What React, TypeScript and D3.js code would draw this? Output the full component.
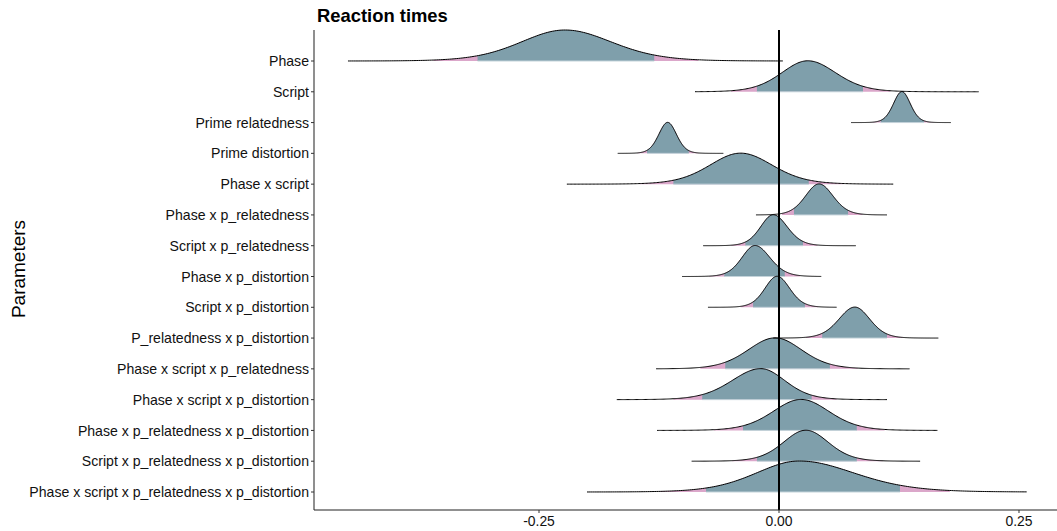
import React from "react";
import * as d3 from "d3";

const params = [
  "Phase",
  "Script",
  "Prime relatedness",
  "Prime distortion",
  "Phase x script",
  "Phase x p_relatedness",
  "Script x p_relatedness",
  "Phase x p_distortion",
  "Script x p_distortion",
  "P_relatedness x p_distortion",
  "Phase x script x p_relatedness",
  "Phase x script x p_distortion",
  "Phase x p_relatedness x p_distortion",
  "Script x p_relatedness x p_distortion",
  "Phase x script x p_relatedness x p_distortion",
];

// posterior mode of each parameter
const modes = [-0.223, 0.03, 0.128, -0.116, -0.04, 0.0417, -0.006, -0.025, -0.002, 0.079, -0.004, -0.019, 0.023, 0.028, 0.021];
// spread left / right of the mode
const sdLeft = [0.047, 0.028, 0.009, 0.0095, 0.033, 0.0145, 0.0135, 0.014, 0.013, 0.017, 0.029, 0.031, 0.03, 0.024, 0.046];
const sdRight = [0.05, 0.03, 0.009, 0.0095, 0.034, 0.015, 0.015, 0.016, 0.0135, 0.016, 0.0285, 0.026, 0.03, 0.024, 0.059];
// inner credible interval (blue)
const innerLo = [-0.314, -0.023, 0.106, -0.1375, -0.11, 0.0156, -0.035, -0.057, -0.027, 0.045, -0.056, -0.08, -0.0375, -0.023, -0.076];
const innerHi = [-0.13, 0.0875, 0.151, -0.094, 0.031, 0.072, 0.025, 0.006, 0.027, 0.1125, 0.053, 0.034, 0.081, 0.081, 0.126];
// outer credible interval (pink)
const outerLo = [-0.36, -0.05, 0.095, -0.148, -0.145, 0.003, -0.05, -0.073, -0.04, 0.028, -0.082, -0.11, -0.068, -0.049, -0.124];
const outerHi = [-0.084, 0.116, 0.163, -0.083, 0.067, 0.087, 0.04, 0.022, 0.041, 0.129, 0.082, 0.06, 0.11, 0.108, 0.178];
// full range of draws
const extentLo = [-0.449, -0.0875, 0.075, -0.168, -0.221, -0.024, -0.079, -0.101, -0.074, -0.006, -0.128, -0.169, -0.127, -0.091, -0.2];
const extentHi = [0.004, 0.208, 0.179, -0.058, 0.119, 0.1125, 0.08, 0.044, 0.06, 0.166, 0.136, 0.1125, 0.165, 0.147, 0.258];

const xTicks = [-0.25, 0, 0.25];
const xTickLabels = ["-0.25", "0.00", "0.25"];

const W = 1057;
const H = 531;
const FONT = "'Liberation Sans', Arial, Helvetica, sans-serif";
const BLUE = "#7f9fab";
const PINK = "#dba7ca";
const DF = 12; // tail heaviness of the density shape

export default function App() {
  const x = d3.scaleLinear().domain([-0.4844, 0.2823]).range([314, 1050]);
  const y = d3.scalePoint<string>().domain(params).range([61, 492]);
  const h = d3.scaleLinear().domain([0, 1]).range([0, 31]);

  const dens = (i: number, v: number) => {
    const m = modes[i];
    const s = v < m ? sdLeft[i] : sdRight[i];
    const z = (v - m) / s;
    return Math.pow(1 + (z * z) / DF, -(DF + 1) / 2);
  };

  const sample = (lo: number, hi: number) => {
    const n = 240;
    return d3.range(n + 1).map((k) => lo + ((hi - lo) * k) / n);
  };

  const rows = params.map((p, i) => {
    const base = y(p) as number;
    const area = d3
      .area<number>()
      .x((v) => x(v))
      .y0(base)
      .y1((v) => base - h(dens(i, v)));
    const line = d3
      .line<number>()
      .x((v) => x(v))
      .y((v) => Math.min(base, base - h(dens(i, v)) + 0));
    return {
      p,
      base,
      outer: area(sample(outerLo[i], outerHi[i])) as string,
      inner: area(sample(innerLo[i], innerHi[i])) as string,
      outline: line(sample(extentLo[i], extentHi[i])) as string,
      i,
    };
  });

  return (
    <svg
      width={W}
      height={H}
      style={{ position: "absolute", left: 0, top: 0, display: "block", background: "#fff" }}
      fontFamily={FONT}
    >
      <rect x={0} y={0} width={W} height={H} fill="#fff" />
      {rows.map((r) => (
        <g key={"f" + r.p}>
          <path d={r.outer} fill={PINK} stroke="none" />
          <path d={r.inner} fill={BLUE} stroke="none" />
          <line
            x1={x(innerLo[r.i])}
            x2={x(innerHi[r.i])}
            y1={r.base}
            y2={r.base}
            stroke="#c4d3da"
            strokeWidth={1}
          />
        </g>
      ))}
      {rows.map((r) => (
        <path key={"o" + r.p} d={r.outline} fill="none" stroke="#000" strokeWidth={1} strokeLinejoin="round" />
      ))}
      <line x1={x(0)} x2={x(0)} y1={30} y2={510} stroke="#000" strokeWidth={2} />
      <line x1={314} x2={314} y1={30} y2={510} stroke="#333" strokeWidth={1.1} />
      <line x1={314} x2={1057} y1={510} y2={510} stroke="#222" strokeWidth={1.1} />
      {params.map((p) => (
        <g key={"yl" + p}>
          <line x1={311} x2={314} y1={y(p)} y2={y(p)} stroke="#333" strokeWidth={1} />
          <text x={309} y={y(p)} dy="0.36em" textAnchor="end" fontSize={14.1} fill="#111">
            {p}
          </text>
        </g>
      ))}
      {xTicks.map((t, k) => (
        <g key={"xt" + t}>
          <line x1={x(t)} x2={x(t)} y1={510} y2={513} stroke="#333" strokeWidth={1} />
          <text x={x(t)} y={526} textAnchor="middle" fontSize={13.9} fill="#111">
            {xTickLabels[k]}
          </text>
        </g>
      ))}
      <text x={317} y={22} fontSize={18.4} fontWeight="bold" fill="#000">
        Reaction times
      </text>
      <text transform={`translate(25,269) rotate(-90)`} textAnchor="middle" fontSize={19} fill="#000">
        Parameters
      </text>
    </svg>
  );
}
